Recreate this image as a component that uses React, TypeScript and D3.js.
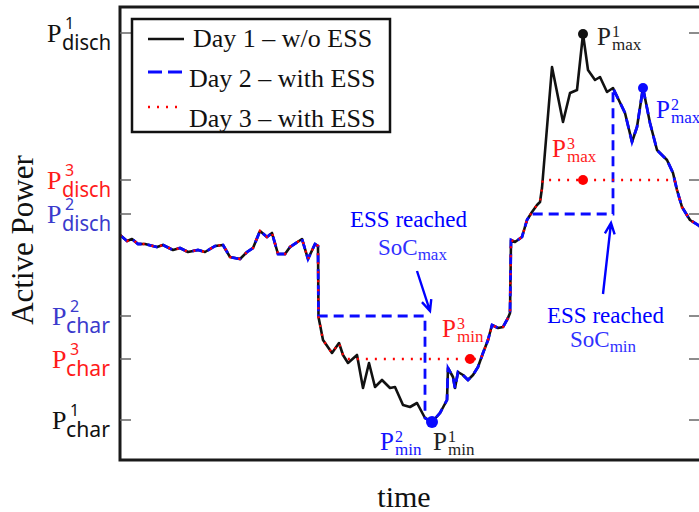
import React from "react";
import * as d3 from "d3";

// Day 1 (no storage): sample times and active power
const day1Time = [
  0, 7, 12, 18, 25, 37, 43, 53, 60, 68,
  78, 85, 95, 103, 110, 120, 127, 133, 140, 147,
  152, 158, 165, 170, 182, 188, 195, 198, 198.5, 203,
  212, 219, 223, 228, 237, 243, 249, 255, 262, 270,
  275, 283, 290, 297, 305, 312, 320, 327, 328, 333,
  335, 338, 343, 348, 353, 358, 363, 368, 372, 378,
  383, 388, 390, 391, 395, 402, 407, 412, 417, 420,
  422, 432, 443, 450, 457, 463, 468, 475, 480, 487,
  493, 505, 512, 517, 523, 530, 537, 547, 553, 557,
  562, 570, 578, 582,
];
const day1Power = [
  225, 219, 221, 216, 216, 213, 215, 210, 212, 208,
  210, 208, 214, 215, 203, 201, 208, 212, 229, 223,
  227, 206, 206, 213, 221, 201, 216, 214, 143, 120,
  107, 117, 105, 97, 105, 72, 97, 73, 80, 72,
  73, 55, 53, 57, 42, 38, 47, 60, 92, 83,
  72, 88, 85, 80, 85, 93, 107, 120, 135, 132,
  133, 142, 147, 220, 218, 223, 240, 248, 255, 258,
  272, 393, 338, 367, 370, 426, 390, 380, 383, 368,
  372, 347, 318, 333, 372, 337, 310, 300, 287, 270,
  253, 240, 235, 232,
];

// ESS operation windows (charge / discharge plateaus)
const day2Windows = [
  { start: 198.5, end: 305, level: 144 },
  { start: 410.75, end: 493, level: 246 },
];
const day3Windows = [
  { start: 225.5, end: 360.9, level: 101 },
  { start: 422.7, end: 554.6, level: 280 },
];

// y-axis levels
const levelValues = [427, 280, 246, 144, 101, 40];
const levelSup = ["1", "3", "2", "2", "3", "1"];
const levelSub = ["disch", "disch", "disch", "char", "char", "char"];
const levelColor = ["#111", "#ff1a1a", "#3a3acc", "#3a3acc", "#ff1a1a", "#111"];

// marked extremes
const markTime = [463, 523, 463, 350, 312];
const markPower = [426, 372, 280, 101, 38];
const markColor = ["#111", "#0a0aff", "#ff0000", "#ff0000", "#0a0aff"];

const legendLabels = ["Day 1 \u2013 w/o ESS", "Day 2 \u2013 with ESS", "Day 3 \u2013 with ESS"];

const W = 699;
const H = 512;
const serif = "'Liberation Serif', 'Times New Roman', serif";
const sans = "'Noto Sans', 'DejaVu Sans', sans-serif";

function withEss(windows: { start: number; end: number; level: number }[]) {
  const out: [number, number][] = [];
  let i = 0;
  const n = day1Time.length;
  windows.forEach((w) => {
    while (i < n && day1Time[i] <= w.start) {
      out.push([day1Time[i], day1Power[i]]);
      i++;
    }
    out.push([w.start, w.level]);
    out.push([w.end, w.level]);
    while (i < n && day1Time[i] < w.end) i++;
  });
  while (i < n) {
    out.push([day1Time[i], day1Power[i]]);
    i++;
  }
  return out;
}

function arrowPath(x1: number, y1: number, x2: number, y2: number) {
  const a = Math.atan2(y2 - y1, x2 - x1);
  const L = 12;
  const s = 0.42;
  const w1 = [x2 - L * Math.cos(a - s), y2 - L * Math.sin(a - s)];
  const w2 = [x2 - L * Math.cos(a + s), y2 - L * Math.sin(a + s)];
  return `M${x1},${y1}L${x2},${y2}M${w1[0]},${w1[1]}L${x2},${y2}L${w2[0]},${w2[1]}`;
}

// P with superscript and subscript stacked, as one text element
function PLabel({ x, y, sup, sub, color }: any) {
  return (
    <text fill={color} fontFamily={serif} fontSize={25}>
      <tspan x={x} y={y}>P</tspan>
      <tspan x={x + 15} y={y - 8} fontSize={16}>{sup}</tspan>
      <tspan x={x + 15} y={y + 5} fontSize={17}>{sub}</tspan>
    </text>
  );
}

export default function App() {
  const x = d3.scaleLinear().domain([0, 582]).range([120, 702]);
  const y = d3.scaleLinear().domain([0, 453]).range([460, 7]);

  const line = d3
    .line<[number, number]>()
    .x((d) => x(d[0]))
    .y((d) => y(d[1]));

  const day1 = day1Time.map((t, i) => [t, day1Power[i]] as [number, number]);
  const day2 = withEss(day2Windows);
  const day3 = withEss(day3Windows);

  return (
    <svg
      width={W}
      height={H}
      style={{ position: "absolute", left: 0, top: 0, background: "#fff" }}
    >
      {/* series */}
      <path d={line(day1) || ""} fill="none" stroke="#111" strokeWidth={2.6} strokeLinejoin="round" />
      <path d={line(day2) || ""} fill="none" stroke="#0a0aff" strokeWidth={2.8} strokeDasharray="10 6" />
      <path d={line(day3) || ""} fill="none" stroke="#ff0000" strokeWidth={2.4} strokeDasharray="2 7" />

      {/* frame */}
      <path d="M702,7H120V460H702" fill="none" stroke="#1a1a1a" strokeWidth={3} />
      {levelValues.map((v, i) => (
        <g key={i} stroke="#666" strokeWidth={1.5}>
          <line x1={120} x2={131} y1={y(v)} y2={y(v)} />
          <line x1={689} x2={702} y1={y(v)} y2={y(v)} />
        </g>
      ))}

      {/* y tick labels */}
      {levelValues.map((v, i) => {
        const yy = y(v);
        const isDisch = levelSub[i] === "disch";
        const px = isDisch ? 47 : 52;
        return (
          <text key={i} fill={levelColor[i]} fontFamily={sans} fontSize={21}>
            <tspan x={px} y={yy + 9} fontFamily={serif} fontSize={26}>P</tspan>
            <tspan x={px + 18} y={yy - 4} fontSize={16}>{levelSup[i]}</tspan>
            <tspan
              x={isDisch ? 62 : 66}
              y={yy + 17}
              textLength={isDisch ? 49 : 44}
              lengthAdjust="spacingAndGlyphs"
            >
              {levelSub[i]}
            </tspan>
          </text>
        );
      })}

      {/* marker dots */}
      {markTime.map((t, i) => (
        <circle key={i} cx={x(t)} cy={y(markPower[i])} r={i === 4 ? 6 : 5} fill={markColor[i]} />
      ))}

      {/* point labels */}
      <PLabel x={597} y={45} sup="1" sub="max" color="#222" />
      <PLabel x={656} y={118} sup="2" sub="max" color="#1414ff" />
      <PLabel x={552} y={157} sup="3" sub="max" color="#ff1a1a" />
      <PLabel x={442} y={337} sup="3" sub="min" color="#ff1a1a" />
      <PLabel x={380} y={450} sup="2" sub="min" color="#1414ff" />
      <PLabel x={433} y={450} sup="1" sub="min" color="#222" />

      {/* ESS annotations */}
      <g fontFamily={serif}>
        <text x={350} y={227} fontSize={23} fill="#0000ff">ESS reached</text>
        <text x={378} y={255} fontSize={23} fill="#3030ff">
          SoC<tspan fontSize={17} dy={5}>max</tspan>
        </text>
        <text x={547} y={323} fontSize={23} fill="#0000ff">ESS reached</text>
        <text x={570} y={347} fontSize={23} fill="#3030ff">
          SoC<tspan fontSize={17} dy={5}>min</tspan>
        </text>
      </g>
      <path d={arrowPath(417, 271, 430, 311)} fill="none" stroke="#0000ff" strokeWidth={2.4} />
      <path d={arrowPath(603, 294, 611, 223)} fill="none" stroke="#0000ff" strokeWidth={2.4} />

      {/* legend */}
      <rect x={132} y={19} width={258} height={113} fill="#fff" stroke="#111" strokeWidth={2.5} />
      <line x1={148} x2={184} y1={39} y2={39} stroke="#111" strokeWidth={2.6} />
      <line x1={148} x2={184} y1={72} y2={72} stroke="#0a0aff" strokeWidth={2.8} strokeDasharray="14 6" />
      <line x1={148} x2={184} y1={107} y2={107} stroke="#ff0000" strokeWidth={2.4} strokeDasharray="2 7" />
      {legendLabels.map((l, i) => (
        <text key={i} x={i === 0 ? 193 : 189} y={[47, 87, 127][i]} fontFamily={serif} fontSize={26} fill="#111">
          {l}
        </text>
      ))}

      {/* axis titles */}
      <text
        transform="translate(33,240) rotate(-90)"
        textAnchor="middle"
        fontFamily={serif}
        fontSize={31}
        fill="#111"
      >
        Active Power
      </text>
      <text x={404} y={507} textAnchor="middle" fontFamily={serif} fontSize={30} fill="#111">
        time
      </text>
    </svg>
  );
}
